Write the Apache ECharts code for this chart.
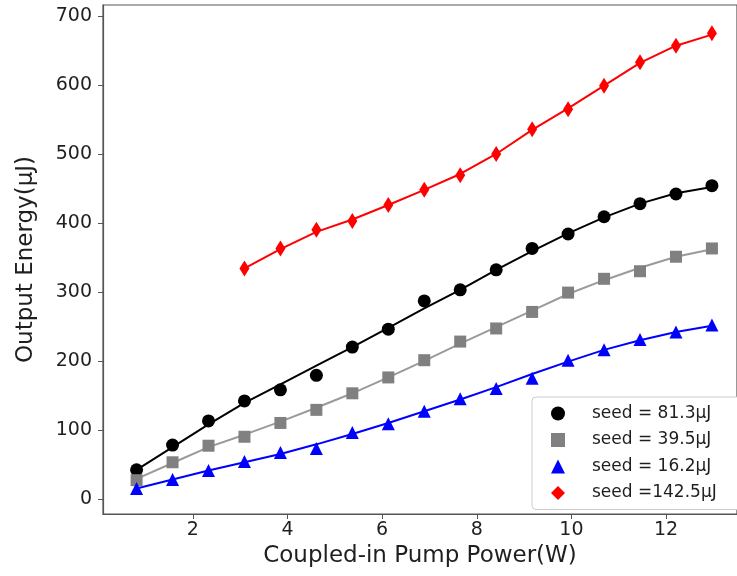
<!DOCTYPE html>
<html>
<head>
<meta charset="utf-8">
<script src="https://cdn.jsdelivr.net/npm/echarts@6/dist/echarts.min.js"></script>
<style>
  html, body { margin: 0; padding: 0; background: #fff; }
  #chart { width: 737px; height: 576px; }
</style>
</head>
<body>
<div id="chart"></div>
<script>
// pump power (W) at each measurement
const pumpPower = [0.81, 1.57, 2.33, 3.09, 3.85, 4.61, 5.37, 6.13, 6.89, 7.65, 8.41, 9.17, 9.93, 10.69, 11.45, 12.21, 12.97];
// measured output energy (uJ)
const seed81 = [42, 78, 113, 142, 158, 179, 220, 246, 287, 303, 332, 363, 384, 409, 428, 442, 454];
const seed39 = [27, 53, 77, 90, 110, 129, 153, 176, 201, 228, 247, 271, 299, 319, 330, 351, 363];
const seed16 = [15, 28, 41, 54, 67, 73, 96, 109, 127, 145, 160, 175, 201, 216, 231, 242, 252];
const seed142 = [null, null, null, 334, 363, 390, 403, 426, 448, 469, 500, 536, 565, 599, 633, 657, 675];
// fitted curves
const fit81 = [42, 75, 108, 139, 166, 193, 220, 248, 276, 303, 332, 359, 385, 408, 428, 443, 452];
const fit39 = [29, 52, 75, 93, 112, 132, 153, 176, 200, 225, 249, 273, 297, 317, 335, 351, 362];
const fit16 = [15, 28, 41, 53, 65, 79, 94, 110, 127, 144, 162, 181, 199, 216, 230, 242, 251];
const fit142 = [null, null, null, 334, 362, 387, 405, 426, 448, 471, 500, 535, 566, 599, 632, 657, 673];

const xTicks = [2, 4, 6, 8, 10, 12];
const yTicks = [0, 100, 200, 300, 400, 500, 600, 700];

const legendNames = ['seed = 81.3μJ', 'seed = 39.5μJ', 'seed = 16.2μJ', 'seed =142.5μJ'];

const pairs = (ys) => pumpPower.map((x, i) => [x, ys[i]]).filter((p) => p[1] !== null);

const textColor = '#1f1f1f';
const axisColor = '#555';
const font = 'DejaVu Sans';

const chart = echarts.init(document.getElementById('chart'));

const fitLine = (name, ys, color) => ({
  name, type: 'line', data: pairs(ys), showSymbol: false, silent: true,
  lineStyle: { color, width: 2 }, z: 2,
});
const points = (name, ys, color, symbol, size) => ({
  name, type: 'scatter', data: pairs(ys), symbol, symbolSize: size,
  itemStyle: { color, opacity: 1 }, z: 3,
});

chart.setOption({
  animation: false,
  textStyle: { fontFamily: font },
  grid: {
    left: 103, right: -2, top: 5, bottom: 62,
    show: true, borderColor: axisColor, borderWidth: 1.2,
  },
  xAxis: {
    type: 'value', min: 0.1, max: 13.5,
    name: 'Coupled-in Pump Power(W)', nameLocation: 'middle', nameGap: 31,
    nameTextStyle: { fontSize: 23, color: textColor, fontFamily: font },
    axisLine: { show: true, onZero: false, lineStyle: { color: axisColor, width: 1.2 } },
    axisTick: { show: true, inside: false, length: 5, customValues: xTicks, lineStyle: { color: axisColor } },
    axisLabel: { customValues: xTicks, fontSize: 19, color: textColor, margin: 7, fontFamily: font },
    splitLine: { show: false },
  },
  yAxis: {
    type: 'value', min: -22, max: 716,
    name: 'Output Energy(μJ)', nameLocation: 'middle', nameGap: 65,
    nameTextStyle: { fontSize: 23, color: textColor, fontFamily: font },
    axisLine: { show: true, onZero: false, lineStyle: { color: axisColor, width: 1.2 } },
    axisTick: { show: true, inside: false, length: 5, customValues: yTicks, lineStyle: { color: axisColor } },
    axisLabel: { customValues: yTicks, fontSize: 19, color: textColor, margin: 11, fontFamily: font },
    splitLine: { show: false },
  },
  legend: {
    data: legendNames,
    orient: 'vertical',
    left: 532, top: 397,
    padding: [8, 24, 8, 19],
    itemWidth: 14, itemHeight: 14, itemGap: 9.5,
    backgroundColor: '#fff',
    borderColor: '#cccccc', borderWidth: 1, borderRadius: 4,
    textStyle: { fontSize: 17, lineHeight: 14, color: textColor, fontFamily: font, padding: [0, 0, 0, 22] },
  },
  series: [
    fitLine('fit81', fit81, '#000000'),
    fitLine('fit39', fit39, '#9a9a9a'),
    fitLine('fit16', fit16, '#0000ff'),
    fitLine('fit142', fit142, '#ff0000'),
    points(legendNames[0], seed81, '#000000', 'circle', 13),
    points(legendNames[1], seed39, '#808080', 'rect', 12),
    points(legendNames[2], seed16, '#0000ff', 'triangle', 13),
    points(legendNames[3], seed142, '#ff0000', 'diamond', [10, 16]),
  ],
});
</script>
</body>
</html>
